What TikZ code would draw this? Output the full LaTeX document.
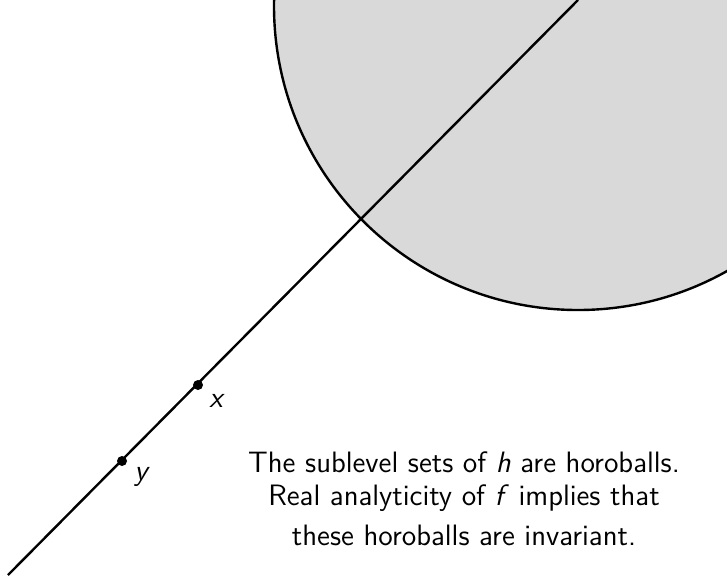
\documentclass[tikz,border=0pt]{standalone}
\usepackage{tikz}
\usetikzlibrary{positioning}

\begin{document}
\begin{tikzpicture}[
  x=0.5pt, y=-0.5pt,
  ball/.style={
    draw,
    fill=black!15,
    line width=1.2pt
  },
  geod/.style={line width=1.2pt},
  dot/.style={circle, fill, inner sep=0pt, minimum size=5pt},
  ptlabel/.style={font=\fontsize{14.75}{18}\selectfont\sffamily\itshape, inner sep=0pt},
  caption/.style={
    align=center,
    font=\fontsize{14.75}{18}\selectfont\sffamily,
    inner sep=0pt
  }
]

  \useasboundingbox[clip] (0,0) rectangle (727,575);

  % Horoball
  \coordinate (c) at (578,6);
  \draw [ball] (c) circle[radius=304];

  % Geodesic
  \coordinate (lo) at (8,575);
  \coordinate (hi) at (578,0);
  \draw [geod] (lo) -- (hi);

  % Points
  \node (px) [dot] at (198,385) {};
  \node (py) [dot] at (122,461) {};
  \node (lx) [ptlabel] at (216,401) {x};
  \node (ly) [ptlabel] at (141,477) {y};

  % Text
  \node (txt) [caption, anchor=base] at (464,545)
    {The sublevel sets of \textit{h} are horoballs. \\[-1.5pt]
     Real analyticity of \textit{f} implies that \\[2pt]
     these horoballs are invariant.};

\end{tikzpicture}
\end{document}
